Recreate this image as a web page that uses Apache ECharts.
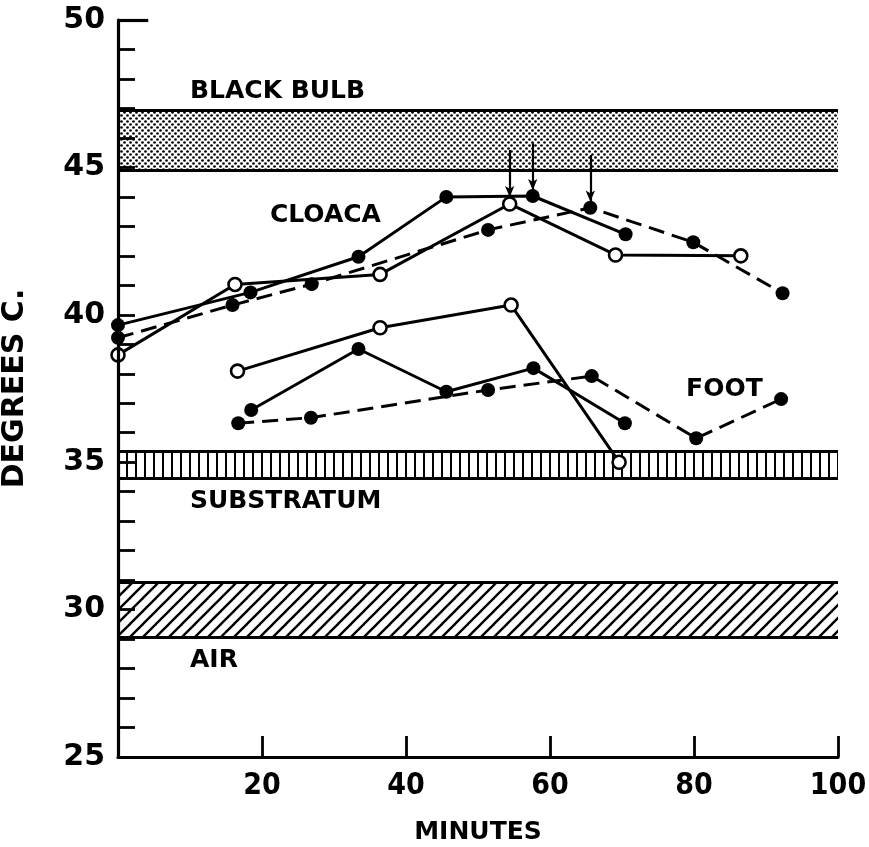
<!DOCTYPE html>
<html><head><meta charset="utf-8">
<script src="https://cdn.jsdelivr.net/npm/echarts@6/dist/echarts.min.js"></script>
<style>html,body{margin:0;padding:0;background:#fff}#c{width:869px;height:847px}</style>
</head><body><div id="c"></div>
<script>
// ---- data ----
const cloacaA_min = [0, 18.4, 33.4, 45.6, 57.6, 70.5];
const cloacaA_deg = [39.65, 40.76, 41.97, 44.0, 44.03, 42.73];
const cloacaB_min = [0, 16.25, 36.4, 54.4, 69.1, 86.5];
const cloacaB_deg = [38.64, 41.03, 41.37, 43.76, 42.03, 42.0];
const cloacaC_min = [0, 15.9, 26.9, 51.4, 65.6, 79.9, 92.3];
const cloacaC_deg = [39.22, 40.33, 41.04, 42.88, 43.63, 42.46, 40.73];
const footD_min = [16.6, 36.4, 54.6, 69.6];
const footD_deg = [38.09, 39.56, 40.33, 35.0];
const footE_min = [18.5, 33.4, 45.6, 57.7, 70.4];
const footE_deg = [36.77, 38.84, 37.39, 38.19, 36.32];
const footF_min = [16.7, 26.8, 51.4, 65.8, 80.3, 92.1];
const footF_deg = [36.32, 36.51, 37.45, 37.92, 35.81, 37.14];
const blackBulbBand = [44.92, 46.95];
const substratumBand = [34.46, 35.36];
const airBand = [29.05, 30.92];
const arrowMin = [54.4, 57.6, 65.6];
const arrowFrom = [45.59, 45.82, 45.42];
const arrowTo = [44.0, 44.23, 43.84];
const xTicks = [0, 20, 40, 60, 80, 100];
const yTicks = [25, 30, 35, 40, 45, 50];
const labelTexts = ['BLACK BULB', 'CLOACA', 'FOOT', 'SUBSTRATUM', 'AIR'];
const labelMin = [10, 21.1, 78.9, 10, 10];
const labelDeg = [47.56, 43.38, 37.45, 33.68, 28.26];

// ---- patterns ----
function dotPattern(){
  const c=document.createElement('canvas'); c.width=6; c.height=6;
  const g=c.getContext('2d'); g.fillStyle='#000';
  g.beginPath(); g.arc(1.5,1.5,1.35,0,Math.PI*2); g.fill();
  g.beginPath(); g.arc(4.5,4.5,1.35,0,Math.PI*2); g.fill();
  return c;
}
function stripePattern(){
  const c=document.createElement('canvas'); c.width=9; c.height=8;
  const g=c.getContext('2d'); g.fillStyle='#000'; g.fillRect(0,0,2,8);
  return c;
}
function hatchPattern(){
  const c=document.createElement('canvas'); c.width=13; c.height=13;
  const g=c.getContext('2d'); g.strokeStyle='#000'; g.lineWidth=2.4;
  [-13,0,13].forEach(k=>{ g.beginPath(); g.moveTo(k-1,14); g.lineTo(k+14,-1); g.stroke(); });
  return c;
}

const pair = (xs, ys) => xs.map((x,i)=>[x, ys[i]]);
const FONT = '"DejaVu Sans", "Liberation Sans", sans-serif';

const chart = echarts.init(document.getElementById('c'), null, {renderer:'canvas'});

const filled = {symbol:'circle', symbolSize:14, itemStyle:{color:'#000', borderColor:'#000', borderWidth:0}};
const open = {symbol:'circle', symbolSize:13, itemStyle:{color:'#fff', borderColor:'#000', borderWidth:2.6}};
function lineSeries(name, data, marker, dashed){
  return Object.assign({
    name, type:'line', data, z:5,
    lineStyle:{color:'#000', width:3, type: dashed ? [16,8] : 'solid'},
    emphasis:{disabled:true}, animation:false
  }, marker);
}

const bandEdges = [];
[blackBulbBand, substratumBand, airBand].forEach(b=>{ bandEdges.push({yAxis:b[0]}); bandEdges.push({yAxis:b[1]}); });

const arrows = arrowMin.map((m,i)=>[{coord:[m, arrowFrom[i]]},{coord:[m, arrowTo[i]]}]);

chart.setOption({
  animation:false,
  backgroundColor:'#fff',
  grid:{left:118, right:31, top:20, bottom:90, containLabel:false, outerBoundsMode:'none'},
  xAxis:{
    type:'value', min:xTicks[0], max:xTicks[xTicks.length-1], interval:20,
    name:'MINUTES', nameLocation:'middle', nameGap:63,
    nameTextStyle:{fontFamily:FONT, fontWeight:'bold', fontSize:25, color:'#000'},
    axisLine:{show:true, onZero:false, lineStyle:{color:'#000', width:3.2}},
    axisTick:{show:true, inside:true, length:21, lineStyle:{color:'#000', width:2.8}},
    axisLabel:{show:true, margin:14, color:'#000', fontFamily:'"DejaVu Sans Condensed", '+FONT, fontWeight:'bold', fontSize:30,
      formatter: v => v===0 ? '' : String(v)},
    splitLine:{show:false}, z:10
  },
  yAxis:{
    type:'value', min:yTicks[0], max:yTicks[yTicks.length-1], interval:5,
    name:'DEGREES C.', nameLocation:'middle', nameGap:88, nameRotate:90,
    nameTextStyle:{fontFamily:FONT, fontWeight:'bold', fontSize:30, color:'#000'},
    axisLine:{show:true, onZero:false, lineStyle:{color:'#000', width:3.2}},
    axisTick:{show:true, inside:true, length:17, lineStyle:{color:'#000', width:2.8}},
    minorTick:{show:true, splitNumber:5, length:17, lineStyle:{color:'#000', width:2.8}},
    axisLabel:{show:true, margin:13, color:'#000', fontFamily:FONT, fontWeight:'bold', fontSize:30},
    splitLine:{show:false}, minorSplitLine:{show:false}, z:10
  },
  series:[
    {
      name:'bands', type:'line', data:[], z:1, silent:true,
      markArea:{silent:true, label:{show:false}, data:[
        [{yAxis:blackBulbBand[0], itemStyle:{color:{image:dotPattern(), repeat:'repeat'}}},{yAxis:blackBulbBand[1]}],
        [{yAxis:substratumBand[0], itemStyle:{color:{image:stripePattern(), repeat:'repeat'}}},{yAxis:substratumBand[1]}],
        [{yAxis:airBand[0], itemStyle:{color:{image:hatchPattern(), repeat:'repeat'}}},{yAxis:airBand[1]}]
      ]},
      markLine:{silent:true, symbol:'none', label:{show:false}, animation:false,
        lineStyle:{color:'#000', width:3.2, type:'solid'},
        data: bandEdges.concat([[{coord:[0,50]},{coord:[4.2,50]}]])}
    },
    Object.assign(lineSeries('Cloaca A', pair(cloacaA_min, cloacaA_deg), filled, false), {
      markLine:{silent:true, symbol:['none','arrow'], symbolSize:[7,11], label:{show:false}, animation:false,
        lineStyle:{color:'#000', width:2.2, type:'solid'}, data: arrows}
    }),
    lineSeries('Cloaca B', pair(cloacaB_min, cloacaB_deg), open, false),
    lineSeries('Cloaca C', pair(cloacaC_min, cloacaC_deg), filled, true),
    lineSeries('Foot D', pair(footD_min, footD_deg), open, false),
    lineSeries('Foot E', pair(footE_min, footE_deg), filled, false),
    lineSeries('Foot F', pair(footF_min, footF_deg), filled, true)
  ]
});

chart.setOption({
  graphic: labelTexts.map((t,i)=>{
    const p = chart.convertToPixel({gridIndex:0}, [labelMin[i], labelDeg[i]]);
    return {type:'text', x:p[0], y:p[1], z:20, silent:true,
      style:{text:t, fill:'#000', font:'bold 25px '+FONT, align:'left', verticalAlign:'middle'}};
  })
});
</script>
</body></html>
